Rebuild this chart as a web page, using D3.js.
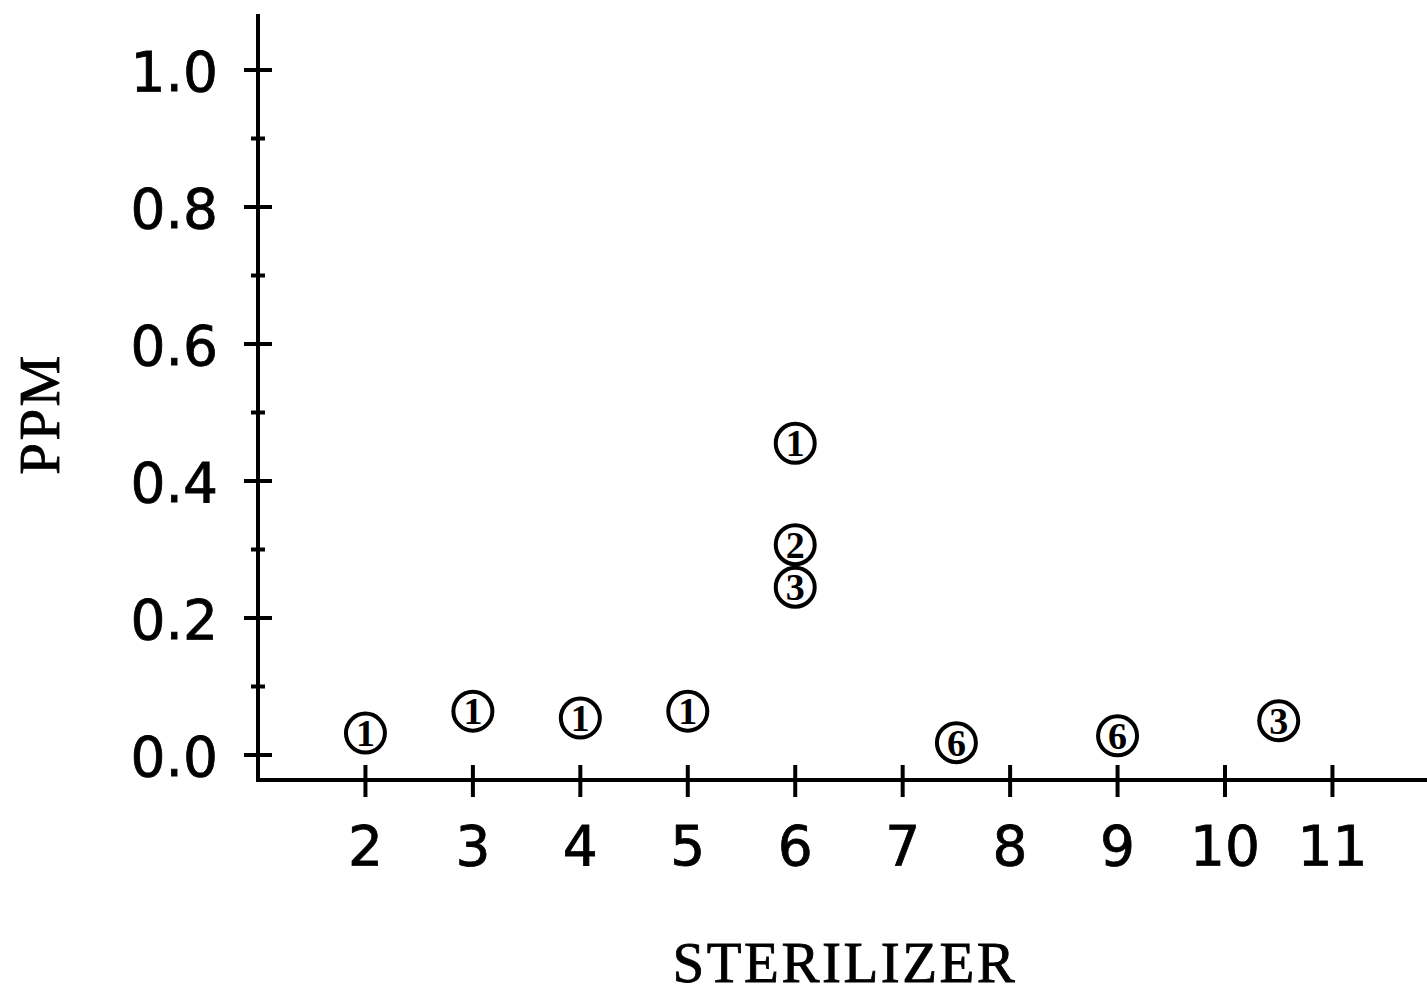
<!DOCTYPE html>
<html><head><meta charset="utf-8">
<script src="https://cdn.jsdelivr.net/npm/d3@7"></script>
<style>html,body{margin:0;padding:0;background:#fff;}</style>
</head><body>
<svg id="chart" width="1427" height="993"></svg>
<script>
// Data
const sterilizer = [2, 3, 4, 5, 6, 6, 6, 7.5, 9, 10.5];
const ppm = [0.032, 0.064, 0.054, 0.064, 0.455, 0.307, 0.245, 0.018, 0.028, 0.05];
const markerLabels = ["1", "1", "1", "1", "1", "2", "3", "6", "6", "3"];
const xTicks = [2, 3, 4, 5, 6, 7, 8, 9, 10, 11];
const yMajorTicks = [0.0, 0.2, 0.4, 0.6, 0.8, 1.0];
const yMinorTicks = [0.1, 0.3, 0.5, 0.7, 0.9];

const svg = d3.select("#chart");
const x = d3.scaleLinear().domain([1, 11.88]).range([258, 1427]);
const y = d3.scaleLinear().domain([0, 1]).range([755, 70]);
const axisY = 780;
const axisX = 258;
const black = "#000";

// axis lines
svg.append("line").attr("x1", axisX).attr("x2", axisX).attr("y1", 14).attr("y2", axisY + 2)
  .attr("stroke", black).attr("stroke-width", 4);
svg.append("line").attr("x1", axisX - 2).attr("x2", 1427).attr("y1", axisY).attr("y2", axisY)
  .attr("stroke", black).attr("stroke-width", 4);

// y ticks
const yg = svg.append("g");
yg.selectAll("line.maj").data(yMajorTicks).join("line").attr("class", "maj")
  .attr("x1", axisX - 14).attr("x2", axisX + 14)
  .attr("y1", d => y(d)).attr("y2", d => y(d))
  .attr("stroke", black).attr("stroke-width", 4);
yg.selectAll("line.min").data(yMinorTicks).join("line").attr("class", "min")
  .attr("x1", axisX - 7).attr("x2", axisX + 7)
  .attr("y1", d => y(d)).attr("y2", d => y(d))
  .attr("stroke", black).attr("stroke-width", 4);
yg.selectAll("text").data(yMajorTicks).join("text")
  .attr("x", 218).attr("y", d => y(d) + 21)
  .attr("text-anchor", "end")
  .attr("font-family", "'DejaVu Sans', sans-serif").attr("font-size", 55)
  .attr("stroke", black).attr("stroke-width", 0.8)
  .attr("fill", black)
  .text(d => d3.format(".1f")(d));

// x ticks
const xg = svg.append("g");
xg.selectAll("line").data(xTicks).join("line")
  .attr("x1", d => x(d)).attr("x2", d => x(d))
  .attr("y1", axisY - 15).attr("y2", axisY + 17)
  .attr("stroke", black).attr("stroke-width", 4);
xg.selectAll("text").data(xTicks).join("text")
  .attr("x", d => x(d)).attr("y", 865)
  .attr("text-anchor", "middle")
  .attr("font-family", "'DejaVu Sans', sans-serif").attr("font-size", 55)
  .attr("stroke", black).attr("stroke-width", 0.8)
  .attr("fill", black)
  .text(d => d);

// axis titles
svg.append("text").attr("x", 845).attr("y", 982).attr("text-anchor", "middle")
  .attr("font-family", "'Liberation Serif', serif").attr("font-size", 57)
  .attr("letter-spacing", 2.5)
  .attr("stroke", black).attr("stroke-width", 0.8)
  .attr("fill", black).text("STERILIZER");
svg.append("text").attr("transform", "translate(59,414) rotate(-90)").attr("text-anchor", "middle")
  .attr("font-family", "'Liberation Serif', serif").attr("font-size", 57)
  .attr("letter-spacing", 2.5)
  .attr("stroke", black).attr("stroke-width", 0.8)
  .attr("fill", black).text("PPM");

// markers: circled numbers
const pts = sterilizer.map((s, i) => ({s, v: ppm[i], lab: markerLabels[i]}));
const mg = svg.append("g").selectAll("g").data(pts).join("g")
  .attr("transform", d => `translate(${x(d.s)},${y(d.v)})`);
mg.append("circle").attr("r", 19.5).attr("fill", "none").attr("stroke", black).attr("stroke-width", 4);
mg.append("text").attr("y", 13).attr("text-anchor", "middle")
  .attr("font-family", "'Liberation Serif', serif").attr("font-size", 38).attr("font-weight", "bold")
  .attr("fill", black).text(d => d.lab);
</script>
</body></html>
